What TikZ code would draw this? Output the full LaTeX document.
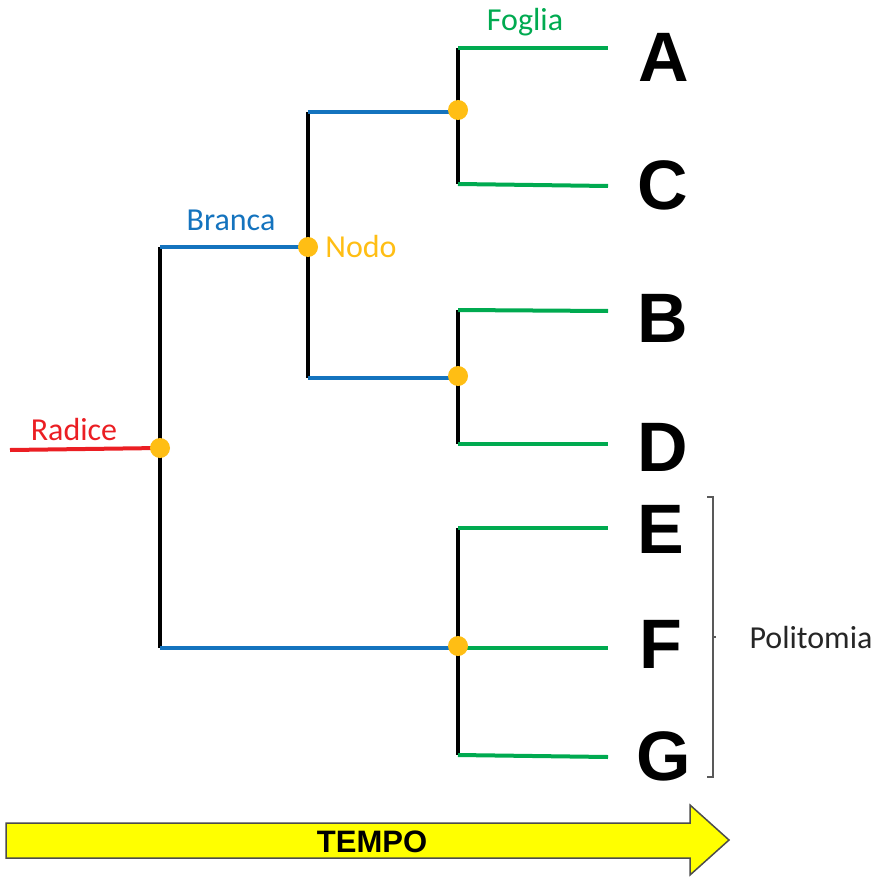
\documentclass[tikz,border=0pt]{standalone}
\usepackage{fontspec}
\setmainfont{Carlito}
\newfontfamily\arialfont{Liberation Sans}
\usetikzlibrary{shapes.arrows}
\definecolor{cred}{RGB}{235,30,35}
\definecolor{cblue}{RGB}{20,115,190}
\definecolor{cgreen}{RGB}{0,170,80}
\definecolor{cdot}{RGB}{255,190,20}
\definecolor{cyel}{RGB}{255,255,0}
\tikzset{
  stem/.style={line width=4pt, black},
  bluebr/.style={line width=4pt, cblue},
  greenbr/.style={line width=4pt, cgreen},
  redbr/.style={line width=4pt, cred},
  dot/.style={circle, fill=cdot, inner sep=0pt, minimum size=20pt},
  leaf/.style={font=\arialfont\bfseries\fontsize{70}{70}\selectfont, inner sep=0pt},
  lbl/.style={font=\fontsize{32}{32}\selectfont, inner sep=0pt},
}
\begin{document}
\begin{tikzpicture}[x=1pt,y=-1pt]
\useasboundingbox (0,0) rectangle (882,877);
% coordinates
\coordinate (r0) at (10,450);
\coordinate (n1) at (160,448);
\coordinate (n1t) at (160,247);
\coordinate (n1b) at (160,648);
\coordinate (n2) at (308,247);
\coordinate (n2t) at (308,112);
\coordinate (n2b) at (308,378);
\coordinate (n3) at (458,110);
\coordinate (n3s) at (458,112);
\coordinate (n3t) at (458,48);
\coordinate (n3b) at (458,184);
\coordinate (n4) at (458,376);
\coordinate (n4s) at (458,378);
\coordinate (n4t) at (458,310);
\coordinate (n4b) at (458,444);
\coordinate (n5) at (458,646);
\coordinate (n5s) at (458,648);
\coordinate (n5t) at (458,528);
\coordinate (n5b) at (458,755);
\coordinate (lA) at (608,48);
\coordinate (lC) at (608,186);
\coordinate (lB) at (608,311);
\coordinate (lD) at (608,444);
\coordinate (lE) at (608,528);
\coordinate (lF) at (608,648);
\coordinate (lG) at (608,757);
% verticals
\draw[stem] (n1t) -- (n1b);
\draw[stem] (n2t) -- (n2b);
\draw[stem] (n3t) -- (n3b);
\draw[stem] (n4t) -- (n4b);
\draw[stem] (n5t) -- (n5b);
% root
\draw[redbr] (r0) -- (n1);
% branches
\draw[bluebr] (n1t) -- (n2);
\draw[bluebr] (n2t) -- (n3s);
\draw[bluebr] (n2b) -- (n4s);
\draw[bluebr] (n1b) -- (n5s);
% leaves
\draw[greenbr] (n3t) -- (lA);
\draw[greenbr] (n3b) -- (lC);
\draw[greenbr] (n4t) -- (lB);
\draw[greenbr] (n4b) -- (lD);
\draw[greenbr] (n5t) -- (lE);
\draw[greenbr] (n5s) -- (lF);
\draw[greenbr] (n5b) -- (lG);
% dots
\node[dot] (d1) at (n1) {};
\node[dot] (d2) at (n2) {};
\node[dot] (d3) at (n3) {};
\node[dot] (d4) at (n4) {};
\node[dot] (d5) at (n5) {};
% labels
\node[lbl, text=cred] (radice) at (74,430) {Radice};
\node[lbl, text=cblue] (branca) at (231,220) {Branca};
\node[lbl, text=cdot] (nodo) at (361,246) {Nodo};
\node[lbl, text=cgreen] (foglia) at (525,22) {Foglia};
% leaf letters
\node[leaf] (A) at (664,57) {A};
\node[leaf] (C) at (663,185) {C};
\node[leaf] (B) at (663,318) {B};
\node[leaf] (D) at (663,447) {D};
\node[leaf] (E) at (661,529) {E};
\node[leaf] (F) at (661,644) {F};
\node[leaf] (G) at (664,756) {G};
% bracket
\coordinate (bt) at (707,497);
\coordinate (bb) at (707,777);
\draw[line width=2pt, black!65] (bt) -- ++(6,0) |- (bb);
\coordinate (bm) at (713,637);
\draw[line width=2pt, black!65] (bm) -- ++(3,0);
\node[lbl, text=black!85] (polit) at (811,637) {Politomia};
% arrow
\draw[line width=1.5pt, black!70, fill=cyel] (6,823) -- (690,823) -- (690,805) -- (729,840) -- (690,875) -- (690,858) -- (6,858) -- cycle;
\node[font=\arialfont\bfseries\fontsize{31}{31}\selectfont, inner sep=0pt] (tempo) at (372,842) {TEMPO};
\end{tikzpicture}
\end{document}
